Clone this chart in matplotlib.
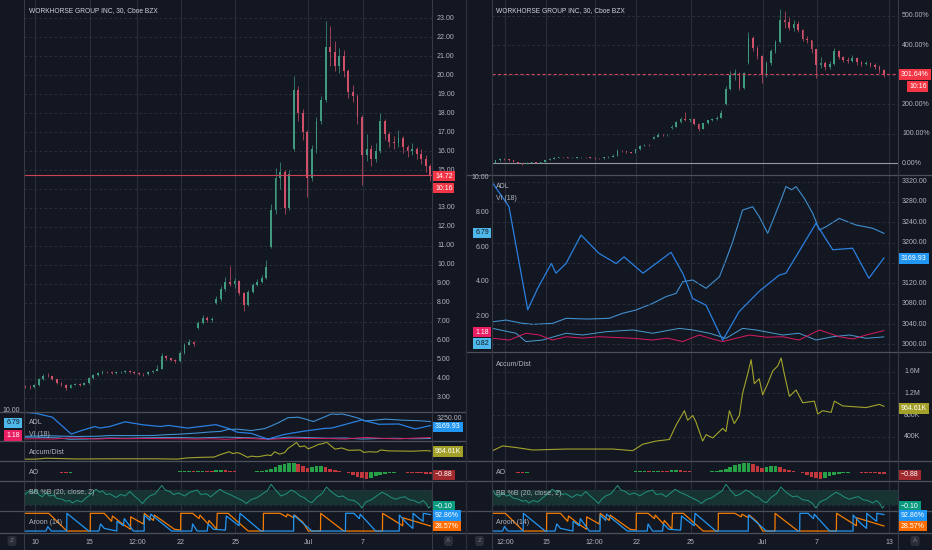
import matplotlib
matplotlib.use('Agg')
import matplotlib.pyplot as plt
import numpy as np

plt.rcParams['font.family'] = ['Liberation Sans', 'DejaVu Sans']

W, H = 932, 550
BG = '#131722'
GRID = '#2a2e39'
SEP = '#4c505b'
TXT = '#b2b5be'
UP = '#3f9a80'
DOWN = '#cf5068'
FS = 5

# ============================================================
# data (trading-day axis: Jun 9 = 0, Jun 10 = 1, ... Jul 13 = 23)
# ============================================================
bar_day = 0.45 + 0.25 * np.arange(90)

opens = [3.62, 3.60, 3.55, 3.67, 4.00, 4.18, 4.15, 3.98, 3.80, 3.70,
         3.52, 3.70, 3.74, 3.70, 3.78, 4.05, 4.22, 4.32, 4.38, 4.36,
         4.30, 4.34, 4.36, 4.40, 4.38, 4.33, 4.28, 4.25, 4.36, 4.42,
         4.55, 5.20, 5.10, 5.00, 4.92, 5.35, 5.80, 5.95, 6.70, 6.95,
         7.20, 7.10, 8.00, 8.20, 8.75, 9.10, 9.00, 9.15, 8.50, 7.90,
         8.60, 8.95, 9.10, 9.30, 10.95, 12.90, 14.60, 14.90, 13.00, 16.10,
         19.20, 18.00, 17.00, 14.60, 16.10, 17.60, 18.70, 21.50, 21.20, 20.50,
         21.00, 20.20, 19.10, 18.90, 17.80, 15.80, 16.10, 15.60, 16.00, 17.60,
         16.90, 16.50, 16.40, 16.70, 16.20, 16.00, 16.10, 15.85, 15.60, 15.20]
closes = [3.60, 3.55, 3.67, 4.00, 4.18, 4.15, 3.98, 3.80, 3.70, 3.52,
          3.70, 3.74, 3.70, 3.78, 4.05, 4.22, 4.32, 4.38, 4.36, 4.30,
          4.34, 4.36, 4.40, 4.38, 4.33, 4.28, 4.25, 4.36, 4.42, 4.55,
          5.20, 5.10, 5.00, 4.92, 5.35, 5.80, 5.95, 5.85, 6.95, 7.20,
          7.10, 7.15, 8.20, 8.75, 9.10, 9.00, 9.15, 8.50, 7.90, 8.60,
          8.95, 9.10, 9.30, 9.90, 12.90, 14.60, 14.90, 13.00, 14.80, 19.20,
          18.00, 17.00, 14.60, 16.10, 17.60, 18.70, 21.50, 21.20, 20.50, 21.00,
          20.20, 19.10, 18.90, 17.80, 15.80, 16.10, 15.60, 16.00, 17.60, 16.90,
          16.50, 16.40, 16.70, 16.20, 16.00, 16.10, 15.85, 15.60, 15.20, 14.72]
highs = [3.68, 3.66, 3.75, 4.05, 4.28, 4.30, 4.18, 4.00, 3.85, 3.72,
         3.76, 3.80, 3.78, 3.82, 4.10, 4.28, 4.38, 4.45, 4.44, 4.40,
         4.40, 4.42, 4.46, 4.45, 4.42, 4.36, 4.32, 4.40, 4.48, 4.75,
         5.35, 5.28, 5.12, 5.05, 5.45, 5.90, 6.08, 6.00, 7.05, 7.35,
         7.30, 7.25, 8.35, 8.90, 9.35, 9.95, 9.30, 9.20, 8.60, 8.70,
         9.05, 9.25, 9.45, 10.25, 13.20, 15.10, 15.40, 15.00, 15.00, 19.95,
         19.40, 18.20, 17.10, 16.30, 17.80, 18.90, 22.85, 22.60, 21.80, 21.40,
         21.30, 20.30, 19.50, 19.00, 17.90, 16.90, 16.30, 16.40, 18.00, 17.70,
         17.00, 16.80, 17.10, 16.80, 16.30, 16.40, 16.20, 16.10, 15.80, 15.30]
lows = [3.52, 3.48, 3.52, 3.64, 3.95, 4.08, 3.95, 3.75, 3.65, 3.42,
        3.50, 3.66, 3.64, 3.68, 3.75, 4.00, 4.18, 4.28, 4.30, 4.24,
        4.26, 4.30, 4.32, 4.32, 4.26, 4.22, 4.18, 4.22, 4.32, 4.40,
        4.52, 5.00, 4.92, 4.85, 4.90, 5.30, 5.78, 5.72, 6.65, 6.90,
        7.00, 7.02, 7.95, 8.10, 8.65, 8.90, 8.80, 8.40, 7.60, 7.85,
        8.55, 8.90, 9.05, 9.25, 10.90, 12.70, 14.00, 12.70, 12.90, 16.00,
        17.60, 16.60, 13.60, 14.40, 15.90, 17.40, 18.60, 20.50, 20.20, 20.10,
        19.90, 18.80, 18.60, 17.40, 14.20, 15.50, 15.20, 15.40, 15.90, 16.60,
        16.20, 16.10, 16.20, 15.90, 15.70, 15.80, 15.60, 15.30, 14.90, 14.40]
last_price = 14.72
pct_base = 3.665          # 14.72 <-> 301.64 %
last_pct = 301.64

ao_vals = [0.05, 0.10, 0.15, 0.20, 0.15, 0.10, 0.00, -0.10, -0.15, -0.20,
           -0.15, -0.10, -0.05, 0.00, 0.10, 0.15, 0.20, 0.15, 0.10, 0.05,
           0.05, 0.05, 0.00, 0.00, -0.05, -0.05, -0.05, 0.00, 0.05, 0.15,
           0.30, 0.35, 0.30, 0.25, 0.40, 0.55, 0.60, 0.50, 0.70, 0.85,
           0.80, 0.70, 0.90, 1.10, 1.00, 0.80, 0.55, 0.30, 0.05, 0.10,
           0.30, 0.50, 0.80, 1.20, 1.80, 2.60, 3.40, 4.00, 4.40, 4.60,
           4.20, 3.20, 2.20, 2.50, 2.90, 3.10, 2.60, 1.80, 1.00, 0.40,
           0.10, -0.20, -1.20, -2.20, -3.00, -3.30, -2.70, -2.00, -1.30, -0.70,
           -0.40, -0.20, -0.10, -0.10, -0.20, -0.30, -0.35, -0.50, -0.70, -0.88]

adl_day = [0.45, 1.05, 1.95, 2.62, 2.99, 3.54, 4.0, 4.3, 4.55, 5.11, 5.94, 6.93,
           7.88, 8.32, 9.37, 10.92, 11.59, 12.12, 12.86, 13.78, 14.68, 15.79,
           16.9, 17.28, 18.94, 19.87, 20.97, 21.87, 22.7]
adl_val = [3330, 3317, 3271, 3140, 3068, 3110, 3140, 3159, 3140, 3159, 3215, 3179,
           3159, 3172, 3140, 3181, 3138, 3090, 3077, 3008, 3064, 3104,
           3136, 3140, 3238, 3186, 3189, 3130, 3169.93]

up_day = [0.45, 1.05, 1.79, 2.6, 3.27, 4.37, 5.11, 6.3, 7.49, 8.24, 8.98, 9.9,
          10.64, 11.2, 11.57, 12.12, 12.86, 13.6, 13.96, 14.33, 14.88, 15.44,
          15.8, 16.27, 16.64, 17.0, 17.28, 17.6, 17.84, 18.3, 18.76, 19.13,
          19.5, 20.23, 20.7, 21.16, 22.08, 22.7]
up_val = [1.6, 1.69, 1.79, 1.62, 1.54, 1.6, 1.89, 1.85, 1.89, 2.18, 2.37, 2.75,
          3.14, 3.33, 4.0, 4.1, 3.62, 4.29, 5.25, 6.3, 8.13, 8.32,
          7.75, 6.79, 7.75, 8.7, 9.48, 9.3, 9.48, 8.8, 7.94, 6.98,
          7.17, 7.65, 7.45, 7.27, 7.08, 6.79]

vim_day = [0.45, 1.05, 1.97, 2.89, 3.63, 4.37, 5.11, 6.0, 6.95, 8.8, 9.9, 10.7,
           11.56, 12.48, 13.2, 13.78, 15.25, 16.2, 17.1, 18.0, 19.13, 20.23,
           21.0, 21.71, 22.7]
vim_val = [0.7, 0.74, 0.64, 1.03, 0.93, 0.64, 0.83, 0.75, 0.83, 0.74, 0.64, 0.75,
           0.55, 0.93, 0.7, 0.55, 0.93, 0.8, 0.83, 0.64, 1.22, 0.83,
           0.7, 0.93, 1.18]

vip_day = [0.45, 1.05, 2.34, 2.89, 3.81, 5.11, 6.03, 7.32, 8.8, 9.9, 11.38,
           12.12, 13.04, 13.96, 14.88, 15.62, 17.1, 18.0, 18.94, 19.87, 20.79,
           21.71, 22.7]
vip_val = [1.3, 1.31, 1.03, 0.55, 0.64, 1.03, 0.93, 1.12, 1.22, 1.03, 1.31,
           1.22, 1.03, 0.74, 1.31, 1.22, 0.93, 1.03, 0.64, 0.83, 0.93,
           0.74, 0.82]

ad_day = [0.45, 1.05, 1.6, 2.34, 3.27, 5.11, 7.69, 8.8, 9.35, 10.09, 10.83, 11.2,
          11.66, 11.84, 12.12, 12.3, 12.67, 12.86, 13.23, 13.78, 13.96, 14.15,
          14.42, 14.7, 14.88, 15.16, 15.35, 15.53, 15.8, 15.99, 16.27, 16.55,
          16.82, 17.01, 17.19, 17.47, 17.84, 18.21, 18.85, 19.04, 19.31, 19.78,
          19.96, 20.42, 21.71, 22.45, 22.7]
ad_val = [140, 148, 236, 206, 160, 178, 178, 148, 266, 324, 354, 618,
          883, 707, 795, 677, 324, 442, 382, 559, 500, 883,
          647, 795, 1205, 1557, 1822, 1381, 1470, 1175, 1381, 1616,
          1704, 1852, 1557, 1147, 1264, 1029, 1059, 823, 883, 853,
          1059, 971, 941, 999, 964.61]

bb_day = [0.45, 0.7, 0.9, 1.05, 1.2, 1.4, 1.6, 1.8, 2.0, 2.2, 2.5, 2.7, 2.9, 3.05,
          3.3, 3.55, 3.8, 4.1, 4.35, 4.55, 4.7, 4.9, 5.1, 5.44, 5.7, 5.95, 6.2,
          6.45, 6.7, 6.9, 7.1, 7.3, 7.6, 7.96, 8.15, 8.4, 8.6, 8.9, 9.2, 9.5,
          9.9, 10.1, 10.4, 10.64, 10.9, 11.15, 11.4, 11.7, 11.95, 12.2, 12.45,
          12.6, 12.85, 13.2, 13.5, 13.75, 13.96, 14.2, 14.5, 14.8, 15.06, 15.3,
          15.55, 15.8, 16.0, 16.2, 16.45, 16.75, 17.0, 17.2, 17.4, 17.65, 17.9,
          18.2, 18.5, 18.75, 18.94, 19.15, 19.5, 19.8, 20.05, 20.3, 20.55, 20.8,
          21.05, 21.3, 21.55, 21.8, 22.08, 22.3, 22.5, 22.6, 22.7]
bb_val = [0.7, 0.95, 0.8, 1.0, 0.7, 0.55, 0.8, 0.6, 0.65, 0.45, 0.38, 0.25, 0.3, 0.13,
          0.3, 0.2, 0.47, 0.75, 1.05, 0.85, 0.95, 0.7, 0.75, 0.5, 0.7, 0.6, 0.9,
          0.6, 0.35, 0.1, 0.4, 0.6, 0.75, 1.3, 1.0, 0.9, 0.7, 0.8, 0.6, 0.85,
          1.0, 0.7, 0.75, 0.55, 0.8, 1.05, 0.85, 0.7, 0.55, 0.4, 0.25,
          0.1, 0.35, 0.5, 0.75, 0.95, 1.38, 1.0, 0.6, 0.75, 1.0, 0.85,
          0.6, 0.47, 0.25, 0.15, 0.5, 0.75, 1.2, 0.95, 0.75, 0.55, 0.6,
          0.35, 0.3, 0.1, -0.2, 0.2, 0.38, 0.65, 0.85, 0.7, 0.5, 0.38,
          0.5, 0.55, 0.35, 0.3, 0.13, 0.3, 0.05, -0.2, -0.1]

aru_day = [0.45, 1.75, 2.75, 4.03, 4.04, 4.8, 5.2, 5.25, 5.8, 6.24, 6.25, 6.95, 7.0,
           7.5, 7.55, 8.65, 8.99, 9.0, 9.65, 10.0, 10.05, 10.5, 10.55, 10.97, 11.0,
           11.6, 12.7, 13.53, 13.54, 14.45, 14.8, 14.85, 15.2, 15.25, 15.7, 16.0,
           16.67, 16.68, 17.95, 20.07, 20.08, 21.18, 21.19, 22.7]
aru_val = [100, 100, 0, 0, 100, 100, 55, 85, 40, 10, 80, 40, 100,
           60, 90, 10, 5, 100, 100, 70, 90, 40, 60, 10, 100,
           100, 0, 0, 100, 100, 80, 95, 75, 90, 50, 0,
           0, 100, 0, 0, 100, 30, 75, 28.57]

ard_day = [0.45, 1.6, 1.7, 1.9, 2.74, 2.75, 3.95, 4.5, 4.6, 4.8, 5.49, 5.5, 5.85,
           5.9, 6.4, 6.99, 7.0, 7.3, 7.35, 8.5, 9.6, 9.65, 9.9, 10.45, 10.5, 10.8,
           11.45, 11.5, 12.2, 12.25, 13.4, 15.19, 15.2, 16.2, 18.04, 18.05, 18.5,
           18.8, 18.85, 19.7, 20.99, 21.0, 21.45, 21.74, 21.75, 22.1, 22.3, 22.31,
           22.7]
ard_val = [0, 0, 25, 0, 0, 100, 0, 0, 40, 15, 0, 55, 30,
           70, 0, 0, 90, 60, 95, 0, 0, 40, 0, 0, 40, 10,
           5, 85, 30, 100, 0, 0, 90, 0, 0, 100, 100,
           70, 95, 0, 0, 90, 40, 15, 100, 70, 55, 100,
           92.86]

tick_days_l = [1, 4, 6.6, 9, 12, 16, 19]
tick_lbl_l = ['10', '15', '12:00', '22', '25', 'Jul', '7']
tick_days_r = [1.73, 4, 6.7, 9, 12, 16, 19, 23]
tick_lbl_r = ['12:00', '15', '12:00', '22', '25', 'Jul', '7', '13']

price_ticks = [3, 4, 5, 6, 7, 8, 9, 10, 11, 12, 13, 15, 16, 17, 18, 19, 20, 21, 22, 23]
pct_ticks = [0, 100, 200, 400, 500]
vi_ticks = [10, 8, 6, 4, 2]
adl_ticks = [3000, 3040, 3080, 3120, 3200, 3240, 3280, 3320]
ad_ticks = [400, 800, 1200, 1600]
ad_tick_lbl = ['400K', '800K', '1.2M', '1.6M']

# ============================================================
# layout helpers (pixel coordinates)
# ============================================================
fig = plt.figure(figsize=(W / 100, H / 100), dpi=100, facecolor=BG)

ov = fig.add_axes([0, 0, 1, 1])
ov.set_xlim(0, W)
ov.set_ylim(H, 0)
ov.axis('off')
ov.set_zorder(10)
ov.patch.set_alpha(0)


def pane(x0, x1, y0, y1, xlim, ylim, vlines):
    ax = fig.add_axes([x0 / W, 1 - y1 / H, (x1 - x0) / W, (y1 - y0) / H])
    ax.set_facecolor(BG)
    ax.set_xlim(*xlim)
    ax.set_ylim(*ylim)
    for s in ax.spines.values():
        s.set_visible(False)
    ax.set_xticks([])
    ax.set_yticks([])
    for d in vlines:
        ax.axvline(d, color=GRID, lw=0.8, zorder=0)
    return ax


def ypx(y0, y1, lim, v):
    return y1 - (v - lim[0]) / (lim[1] - lim[0]) * (y1 - y0)


def hgrid(ax, vals):
    for v in vals:
        ax.axhline(v, color='#2f3340', lw=0.6, ls=(0, (3, 3)), zorder=0)


def txt(x, y, s, color=TXT, ha='left', size=FS):
    ov.text(x, y, s, color=color, fontsize=size, ha=ha, va='center')


def tag(x, y, s, bg, fg='white', ha='left'):
    ov.text(x, y, s, color=fg, fontsize=FS, ha=ha, va='center',
            bbox=dict(boxstyle='square,pad=0.28', fc=bg, ec='none'))


def candles(ax, f, width):
    o = f(np.array(opens))
    c = f(np.array(closes))
    h = f(np.array(highs))
    lo = f(np.array(lows))
    col = np.where(c >= o, UP, DOWN)
    ax.vlines(bar_day, lo, h, colors=col, lw=0.5, zorder=2)
    ax.bar(bar_day, c - o, bottom=o, width=width, color=col, lw=0, zorder=3)


def ao_bars(ax):
    v = np.array(ao_vals)
    rising = np.r_[True, v[1:] >= v[:-1]]
    ax.bar(bar_day, v, width=0.2, color=np.where(rising, '#26a148', '#c0373c'), lw=0)


VI_LIM = (-0.05, 10.15)
ADL_LIM = (2985, 3333)
AD_LIM = (-42, 1963)
AO_LIM = (-4.35, 5.65)
BB_LIM = (-0.4, 1.6)
AR_LIM = (-11, 113)


def lower_panes(x0, x1, xlim, vl, rows):
    y0, y1 = rows['adl']
    ax = pane(x0, x1, y0, y1, xlim, VI_LIM, vl)
    ax.plot(up_day, up_val, color='#3f8fcf', lw=0.8)
    ax.plot(vip_day, vip_val, color='#4a9bd0', lw=0.7)
    ax.plot(vim_day, vim_val, color='#d81b60', lw=0.7)
    ax2 = pane(x0, x1, y0, y1, xlim, ADL_LIM, [])
    ax2.patch.set_alpha(0)
    ax2.plot(adl_day, adl_val, color='#2a7fe0', lw=0.9)
    if y1 - y0 > 60:
        hgrid(ax2, adl_ticks + [3160])

    y0, y1 = rows['ad']
    ax = pane(x0, x1, y0, y1, xlim, AD_LIM, vl)
    if y1 - y0 > 60:
        hgrid(ax, ad_ticks)
    ax.plot(ad_day, ad_val, color='#a3a32c', lw=0.8)

    y0, y1 = rows['ao']
    ax = pane(x0, x1, y0, y1, xlim, AO_LIM, vl)
    ao_bars(ax)

    y0, y1 = rows['bb']
    ax = pane(x0, x1, y0, y1, xlim, BB_LIM, vl)
    ax.axhspan(0, 1, color='#173433', lw=0, zorder=0)
    hgrid(ax, [0, 1])
    ax.plot(bb_day, bb_val, color='#22917e', lw=0.7)

    y0, y1 = rows['ar']
    ax = pane(x0, x1, y0, y1, xlim, AR_LIM, vl)
    ax.plot(aru_day, aru_val, color='#f57c00', lw=0.9)
    ax.plot(ard_day, ard_val, color='#2196f3', lw=0.9)


# ============================================================
# left chart: price scale
# ============================================================
LX0, LX1, LXLIM = 24, 432, (0.395, 22.79)
L_MAIN = (0, 412)
L_MAIN_LIM = (2.26, 23.95)
L_ROWS = {'adl': (412, 441), 'ad': (441, 461), 'ao': (461, 481),
          'bb': (481, 511), 'ar': (511, 533)}

ax = pane(LX0, LX1, *L_MAIN, LXLIM, L_MAIN_LIM, tick_days_l)
hgrid(ax, range(3, 24))
candles(ax, lambda a: a, 0.1)
ax.axhline(last_price, color='#c9435a', lw=0.8, zorder=4)
for v in price_ticks:
    txt(437, ypx(*L_MAIN, L_MAIN_LIM, v), '%.2f' % v)
lower_panes(LX0, LX1, LXLIM, tick_days_l, L_ROWS)

# ============================================================
# right chart: percent scale
# ============================================================
RX0, RX1, RXLIM = 492, 898, (1.013, 23.48)
R_MAIN = (0, 175)
R_MAIN_LIM = (-40.7, 553)
R_ROWS = {'adl': (175, 352), 'ad': (352, 461), 'ao': (461, 481),
          'bb': (481, 511), 'ar': (511, 533)}

ax = pane(RX0, RX1, *R_MAIN, RXLIM, R_MAIN_LIM, tick_days_r)
hgrid(ax, [100, 200, 300, 400, 500])
ax.axhline(0, color='#9598a1', lw=0.8, zorder=1)
candles(ax, lambda a: (a / pct_base - 1) * 100, 0.09)
ax.axhline(last_pct, color='#c9435a', lw=0.8, ls=(0, (3, 2)), zorder=4)
for v in pct_ticks:
    txt(902, ypx(*R_MAIN, R_MAIN_LIM, v), '%.2f%%' % v)
lower_panes(RX0, RX1, RXLIM, tick_days_r, R_ROWS)

# right chart axis labels of indicator panes
for v in vi_ticks:
    txt(489, ypx(*R_ROWS['adl'], VI_LIM, v), '%.2f' % v, ha='right')
for v in adl_ticks:
    txt(902, ypx(*R_ROWS['adl'], ADL_LIM, v), '%.2f' % v)
for v, s in zip(ad_ticks, ad_tick_lbl):
    txt(904, ypx(*R_ROWS['ad'], AD_LIM, v), s)

# ============================================================
# frame lines
# ============================================================
for y in [412, 441, 461, 481, 511, 533]:
    ov.plot([0, 466], [y, y], color=SEP, lw=0.9)
for y in [175, 352, 461, 481, 511, 533]:
    ov.plot([466, 932], [y, y], color=SEP, lw=0.9)
for x in [LX0, LX1, RX0, RX1]:
    ov.plot([x, x], [0, H], color='#363a45', lw=0.8)
ov.plot([466, 466], [0, H], color='#2a2e39', lw=1.0)

# ============================================================
# texts and value tags
# ============================================================
TITLE = 'WORKHORSE GROUP INC, 30, Cboe BZX'
txt(29, 11, TITLE, color='#d1d4dc', size=4.8)
txt(29, 423, 'ADL')
txt(29, 435, 'VI (18)')
txt(29, 452, 'Accum/Dist')
txt(29, 472.5, 'AO')
txt(29, 493, 'BB %B (20, close, 2)')
txt(29, 523, 'Aroon (14)')

txt(496, 11, TITLE, color='#d1d4dc', size=4.8)
txt(496, 187, 'ADL')
txt(496, 198.5, 'VI (18)')
txt(496, 364, 'Accum/Dist')
txt(496, 473, 'AO')
txt(496, 493.5, 'BB %B (20, close, 2)')
txt(496, 523, 'Aroon (14)')

# left chart tags
tag(435, 176, '14.72', '#f23645')
tag(435, 188, '10:16', '#f23645')
txt(437, 418, '3250.00')
tag(435, 427, '3169.93', '#2196f3')
tag(435, 451.5, '964.61K', '#a3a02a')
tag(435, 475, '−0.88', '#a12a2f')
tag(435, 506.5, '−0.10', '#089981')
tag(435, 515.5, '92.86%', '#2196f3')
tag(435, 526, '28.57%', '#ff6d00')
txt(20, 410, '10.00', ha='right')
tag(20, 423, '6.79', '#4fb8ea', fg='#131722', ha='right')
tag(20, 435.5, '1.18', '#e91e63', ha='right')

# right chart tags
tag(901, 74.7, '301.64%', '#f23645')
tag(909, 86.5, '10:16', '#f23645')
tag(489, 233, '6.79', '#4fb8ea', fg='#131722', ha='right')
tag(489, 332, '1.18', '#e91e63', ha='right')
tag(489, 343.5, '0.82', '#4fb8ea', fg='#131722', ha='right')
tag(901, 258.5, '3169.93', '#2196f3')
tag(901, 408.5, '964.61K', '#a3a02a')
tag(901, 475, '−0.88', '#a12a2f')
tag(901, 506.5, '−0.10', '#089981')
tag(901, 515.5, '92.86%', '#2196f3')
tag(901, 526, '28.57%', '#ff6d00')

# time axis
for d, s in zip(tick_days_l, tick_lbl_l):
    txt(16.8 + d * 18.22, 542, s, ha='center')
for d, s in zip(tick_days_r, tick_lbl_r):
    txt(473.7 + d * 18.07, 542, s, ha='center')
for x, s in [(12, 'Z'), (448.5, 'A'), (479.5, 'Z'), (915, 'A')]:
    ov.text(x, 541, s, color='#787b86', fontsize=4.5, ha='center', va='center',
            bbox=dict(boxstyle='round,pad=0.4', fc='#2a2e39', ec='none'))

fig.savefig('out.png', dpi=100, facecolor=BG)
